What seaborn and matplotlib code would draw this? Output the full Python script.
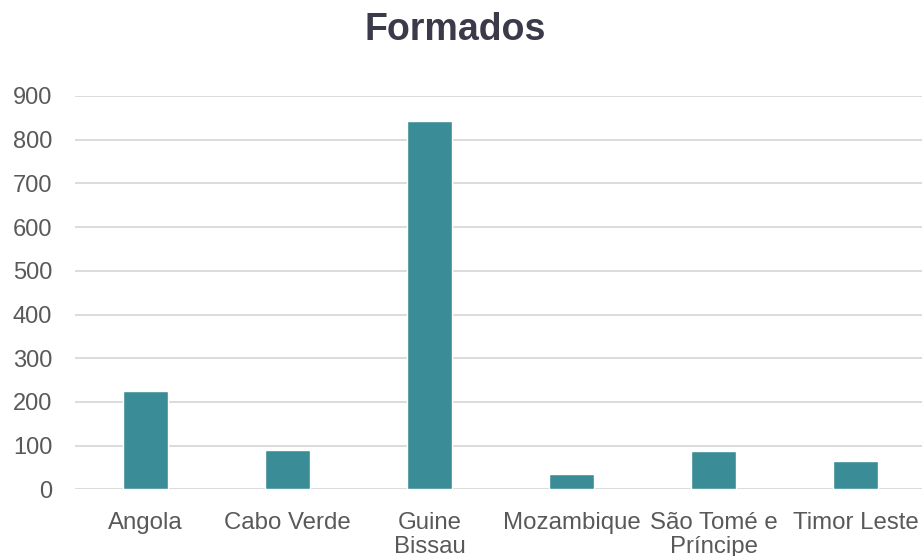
import matplotlib
matplotlib.use("Agg")
import matplotlib.pyplot as plt
import seaborn as sns
import pandas as pd

# values
paises = ["Angola", "Cabo Verde", "Guine\nBissau", "Mozambique", "São Tomé e\nPríncipe", "Timor Leste"]
formados = [224, 89, 842, 36, 88, 65]
y_ticks = [0, 100, 200, 300, 400, 500, 600, 700, 800, 900]

sns.set_theme(style="white")
plt.rcParams["font.family"] = ["Liberation Sans", "DejaVu Sans"]

df = pd.DataFrame({"pais": paises, "formados": formados})

fig = plt.figure(figsize=(9.22, 5.56), dpi=100)
ax = fig.add_axes([74.5 / 922, 1 - 489.3 / 556, (922 - 74.5) / 922, (489.3 - 96) / 556])

sns.barplot(data=df, x="pais", y="formados", color="#3A8D96", saturation=1,
            width=0.316, ax=ax, zorder=3)

ax.set_xlim(-0.5, 5.465)
ax.set_ylim(0, 900)
ax.set_yticks(y_ticks)
ax.grid(axis="y", color="#d9d9d9", linewidth=1.3, zorder=0)
ax.set_axisbelow(True)
for s in ax.spines.values():
    s.set_visible(False)
ax.set_xlabel("")
ax.set_ylabel("")
ax.tick_params(axis="y", length=0, pad=16, labelsize=17, labelcolor="#595959")
ax.tick_params(axis="x", length=0, pad=16, labelsize=17.3, labelcolor="#595959")
for lbl in ax.get_xticklabels():
    lbl.set_linespacing(1.12)

fig.text(455 / 922, 1 - 40 / 556, "Formados", ha="center", va="baseline",
         fontsize=27, fontweight="bold", color="#3b3a4a")

fig.savefig("out.png", dpi=100, facecolor="white")
